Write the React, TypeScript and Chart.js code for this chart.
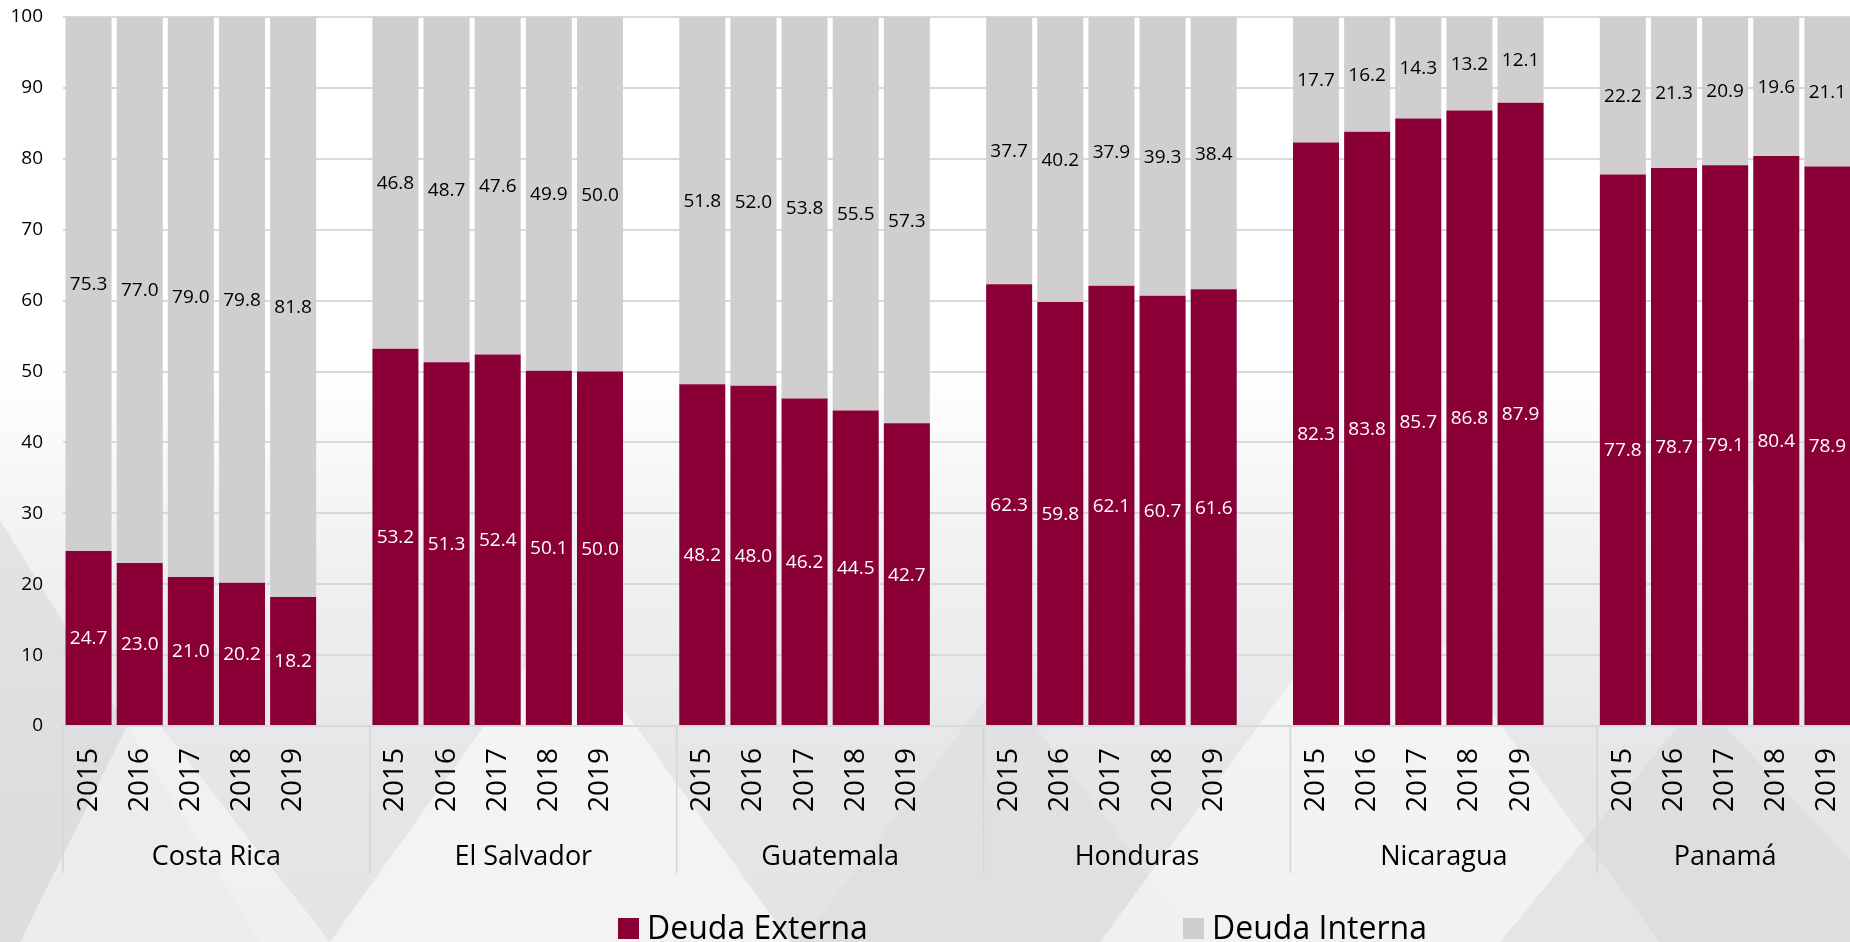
import React, { useEffect, useRef } from "react";
import { Chart, registerables } from "chart.js";

Chart.register(...registerables);

// ---- Data ----
const countries = ["Costa Rica", "El Salvador", "Guatemala", "Honduras", "Nicaragua", "Panamá"];
const years = ["2015", "2016", "2017", "2018", "2019"];

const externaCostaRica = [24.7, 23.0, 21.0, 20.2, 18.2];
const externaElSalvador = [53.2, 51.3, 52.4, 50.1, 50.0];
const externaGuatemala = [48.2, 48.0, 46.2, 44.5, 42.7];
const externaHonduras = [62.3, 59.8, 62.1, 60.7, 61.6];
const externaNicaragua = [82.3, 83.8, 85.7, 86.8, 87.9];
const externaPanama = [77.8, 78.7, 79.1, 80.4, 78.9];

const internaCostaRica = [75.3, 77.0, 79.0, 79.8, 81.8];
const internaElSalvador = [46.8, 48.7, 47.6, 49.9, 50.0];
const internaGuatemala = [51.8, 52.0, 53.8, 55.5, 57.3];
const internaHonduras = [37.7, 40.2, 37.9, 39.3, 38.4];
const internaNicaragua = [17.7, 16.2, 14.3, 13.2, 12.1];
const internaPanama = [22.2, 21.3, 20.9, 19.6, 21.1];

const yTicks = [0, 10, 20, 30, 40, 50, 60, 70, 80, 90, 100];

const externaByCountry = [externaCostaRica, externaElSalvador, externaGuatemala, externaHonduras, externaNicaragua, externaPanama];
const internaByCountry = [internaCostaRica, internaElSalvador, internaGuatemala, internaHonduras, internaNicaragua, internaPanama];

// Build slot arrays: 5 years per country, one empty slot between countries
function buildSlots() {
  const labels: string[] = [];
  const ext: (number | null)[] = [];
  const int: (number | null)[] = [];
  const groups: { name: string; start: number; end: number }[] = [];
  countries.forEach((c, gi) => {
    const start = labels.length;
    years.forEach((y, yi) => {
      labels.push(y);
      ext.push(externaByCountry[gi][yi]);
      int.push(internaByCountry[gi][yi]);
    });
    if (gi < countries.length - 1) {
      labels.push("");
      ext.push(null);
      int.push(null);
    }
    groups.push({ name: c, start, end: labels.length - 1 });
  });
  return { labels, ext, int, groups };
}

const MAROON = "#8A0036";
const GREY = "#D0CECF";
const FONT = "'Open Sans', 'Noto Sans', sans-serif";

export default function App() {
  const canvasRef = useRef<HTMLCanvasElement | null>(null);

  useEffect(() => {
    const { labels, ext, int, groups } = buildSlots();

    const segLabels = {
      id: "segLabels",
      afterDatasetsDraw(chart: any) {
        const ctx = chart.ctx;
        chart.data.datasets.forEach((ds: any, di: number) => {
          const meta = chart.getDatasetMeta(di);
          meta.data.forEach((el: any, i: number) => {
            const v = ds.data[i];
            if (v === null || v === undefined) return;
            const p = el.getProps(["x", "y", "base"], true);
            ctx.save();
            ctx.font = `19px ${FONT}`;
            ctx.fillStyle = di === 0 ? "#ffffff" : "#000000";
            ctx.textAlign = "center";
            ctx.textBaseline = "middle";
            ctx.fillText(Number(v).toFixed(1), p.x, (p.y + p.base) / 2 + 1);
            ctx.restore();
          });
        });
      },
    };

    const groupAxis = {
      id: "groupAxis",
      afterDraw(chart: any) {
        const ctx = chart.ctx;
        const xs = chart.scales.x;
        const bottom = chart.chartArea.bottom;
        ctx.save();
        ctx.strokeStyle = "#D4D4D4";
        ctx.lineWidth = 1.5;
        groups.forEach((g) => {
          const left = xs.getPixelForValue(g.start - 0.5);
          ctx.beginPath();
          ctx.moveTo(left, bottom);
          ctx.lineTo(left, bottom + 147);
          ctx.stroke();
        });
        ctx.fillStyle = "#000000";
        ctx.font = `27px ${FONT}`;
        ctx.textAlign = "center";
        ctx.textBaseline = "alphabetic";
        groups.forEach((g) => {
          const l = xs.getPixelForValue(g.start - 0.5);
          const r = xs.getPixelForValue(g.end + 0.5);
          ctx.fillText(g.name, (l + r) / 2, bottom + 139);
        });
        // legend
        const items = [
          { x: 618, label: chart.data.datasets[0].label, color: chart.data.datasets[0].backgroundColor },
          { x: 1183, label: chart.data.datasets[1].label, color: chart.data.datasets[1].backgroundColor },
        ];
        ctx.font = `32px ${FONT}`;
        ctx.textAlign = "left";
        items.forEach((it) => {
          ctx.fillStyle = it.color;
          ctx.fillRect(it.x, 918, 21, 21);
          ctx.fillStyle = "#000000";
          ctx.fillText(it.label, it.x + 29, 939);
        });
        ctx.restore();
      },
    };

    const chart = new Chart(canvasRef.current as HTMLCanvasElement, {
      type: "bar",
      data: {
        labels,
        datasets: [
          { label: "Deuda Externa", data: ext, backgroundColor: MAROON, borderWidth: 0 },
          { label: "Deuda Interna", data: int, backgroundColor: GREY, borderWidth: 0 },
        ],
      },
      options: {
        responsive: false,
        animation: false,
        maintainAspectRatio: false,
        datasets: { bar: { categoryPercentage: 1, barPercentage: 0.9 } },
        layout: { padding: { top: 17, left: 0, right: 0, bottom: 0 } },
        plugins: {
          legend: { display: false },
          tooltip: { enabled: false },
          title: { display: false },
        },
        scales: {
          x: {
            stacked: true,
            offset: true,
            grid: { display: false, drawTicks: false },
            border: { display: true, color: "#D9D9D9", width: 2 },
            ticks: {
              autoSkip: false,
              minRotation: 90,
              maxRotation: 90,
              padding: 22,
              color: "#000000",
              font: { family: FONT, size: 28 },
            },
            afterFit: (s: any) => {
              s.height = 216;
              s.paddingLeft = 0;
              s.paddingRight = 0;
            },
          },
          y: {
            stacked: true,
            min: 0,
            max: 100,
            afterBuildTicks: (s: any) => {
              s.ticks = yTicks.map((v) => ({ value: v }));
            },
            grid: { color: "#D9D9D9", lineWidth: 2, drawTicks: false },
            border: { display: false },
            ticks: {
              padding: 20,
              color: "#000000",
              font: { family: FONT, size: 19 },
            },
            afterFit: (s: any) => {
              s.width = 63;
              s.paddingTop = 0;
              s.paddingBottom = 0;
            },
          },
        },
      },
      plugins: [segLabels, groupAxis],
    });
    return () => chart.destroy();
  }, []);

  const tri = (pts: string, color: string): React.CSSProperties => ({
    position: "absolute",
    inset: 0,
    background: color,
    clipPath: `polygon(${pts})`,
  });

  return (
    <div
      style={{
        position: "fixed",
        left: 0,
        top: 0,
        width: 1850,
        height: 942,
        overflow: "hidden",
        background:
          "linear-gradient(to bottom, #ffffff 0px, #ffffff 360px, #f1f1f2 560px, #e6e6e8 760px, #e4e4e6 942px)",
      }}
    >
      <div style={tri("0px 520px, 260px 942px, 0px 942px", "rgba(215,215,218,0.55)")} />
      <div style={tri("330px 942px, 560px 620px, 790px 942px", "rgba(255,255,255,0.55)")} />
      <div style={tri("140px 700px, 330px 942px, 20px 942px", "rgba(255,255,255,0.45)")} />
      <div style={tri("800px 942px, 1000px 680px, 1200px 942px", "rgba(220,220,223,0.5)")} />
      <div style={tri("1100px 942px, 1380px 560px, 1660px 942px", "rgba(255,255,255,0.5)")} />
      <div style={tri("1500px 942px, 1700px 700px, 1850px 860px, 1850px 942px", "rgba(215,215,218,0.5)")} />
      <div style={tri("1700px 420px, 1850px 300px, 1850px 600px", "rgba(225,225,228,0.6)")} />
      <canvas
        ref={canvasRef}
        width={1853}
        height={942}
        style={{ position: "absolute", left: 0, top: 0, width: 1853, height: 942, display: "block" }}
      />
    </div>
  );
}
